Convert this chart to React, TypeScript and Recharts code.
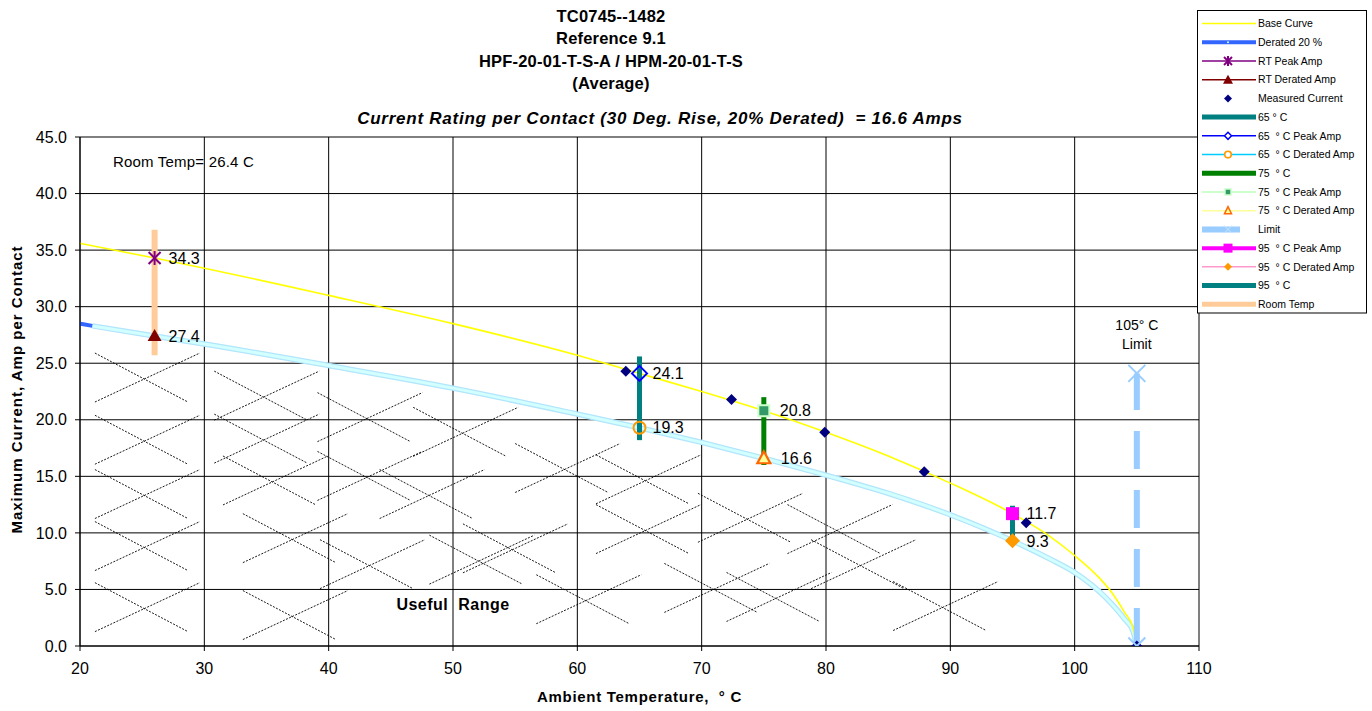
import React from 'react';
import {
  ComposedChart,
  Line,
  Scatter,
  XAxis,
  YAxis,
  CartesianGrid,
  ReferenceLine,
  ReferenceDot,
} from 'recharts';

const FONT = '"Liberation Sans", Arial, Helvetica, sans-serif';

// ---------- data ----------
const xTicks = [20, 30, 40, 50, 60, 70, 80, 90, 100, 110];
const yTicks = [0, 5, 10, 15, 20, 25, 30, 35, 40, 45];

type P = { x: number; y: number };

const baseCurve: P[] = [
  { x: 20, y: 35.6 }, { x: 26, y: 34.3 }, { x: 30, y: 33.4 }, { x: 40, y: 31.0 },
  { x: 50, y: 28.5 }, { x: 60, y: 25.7 }, { x: 65, y: 24.1 }, { x: 70, y: 22.5 },
  { x: 75, y: 20.8 }, { x: 80, y: 18.9 }, { x: 85, y: 16.8 }, { x: 90, y: 14.4 },
  { x: 95, y: 11.7 }, { x: 98, y: 9.7 }, { x: 100, y: 8.0 }, { x: 102, y: 6.0 },
  { x: 103, y: 4.7 }, { x: 104, y: 3.0 }, { x: 104.7, y: 1.6 }, { x: 105, y: 0 },
];

const derated20: P[] = [
  { x: 20, y: 28.5 }, { x: 21, y: 28.3 }, { x: 26, y: 27.4 }, { x: 30, y: 26.7 },
  { x: 40, y: 24.8 }, { x: 50, y: 22.8 }, { x: 60, y: 20.5 }, { x: 65, y: 19.3 },
  { x: 70, y: 18.0 }, { x: 75, y: 16.6 }, { x: 80, y: 15.1 }, { x: 85, y: 13.5 },
  { x: 90, y: 11.6 }, { x: 95, y: 9.3 }, { x: 98, y: 7.7 }, { x: 100, y: 6.5 },
  { x: 102, y: 4.8 }, { x: 103, y: 3.7 }, { x: 104, y: 2.4 }, { x: 104.7, y: 1.3 },
  { x: 105, y: 0 },
];
const deratedBand: P[] = derated20.filter((p) => p.x >= 21);

const measuredCurrent: P[] = [
  { x: 63.9, y: 24.3 }, { x: 72.4, y: 21.8 }, { x: 79.9, y: 18.9 },
  { x: 87.9, y: 15.4 }, { x: 96.1, y: 10.9 }, { x: 105, y: 0 },
];

const rtPeakAmp: P[] = [{ x: 26, y: 34.3 }];
const rtDeratedAmp: P[] = [{ x: 26, y: 27.4 }];
const peak65: P[] = [{ x: 65, y: 24.1 }];
const derated65: P[] = [{ x: 65, y: 19.3 }];
const peak75: P[] = [{ x: 75, y: 20.8 }];
const derated75: P[] = [{ x: 75, y: 16.6 }];
const peak95: P[] = [{ x: 95, y: 11.7 }];
const derated95: P[] = [{ x: 95, y: 9.3 }];

const roomTempBar: P[] = [{ x: 26, y: 25.7 }, { x: 26, y: 36.8 }];
const bar65: P[] = [{ x: 65, y: 18.2 }, { x: 65, y: 25.6 }];
const bar75: P[] = [{ x: 75, y: 16.0 }, { x: 75, y: 22.0 }];
const bar95: P[] = [{ x: 95, y: 9.3 }, { x: 95, y: 12.4 }];
const limitBar: P[] = [{ x: 105, y: 0 }, { x: 105, y: 24.1 }];
const limitPoints: P[] = [{ x: 105, y: 24.1 }, { x: 105, y: 0 }];

// "Useful Range" hatching: top-left corner of each dashed cross (data units)
const hatchCrosses: [number, number][] = [
  [21.2, 25.9], [21.2, 20.4], [21.2, 15.6], [21.2, 11.0], [21.2, 5.6],
  [30.8, 24.3], [30.8, 20.5], [31.5, 16.8], [33.1, 11.7], [33.1, 4.9],
  [39.1, 22.4], [39.1, 17.2], [39.3, 9.4],
  [46.8, 21.1], [44.1, 15.6], [48.1, 9.8], [50.8, 10.8],
  [55.0, 17.9], [56.7, 6.3],
  [61.5, 16.9], [61.5, 12.5],
  [69.7, 13.5], [67.0, 7.3], [72.0, 6.5],
  [76.9, 12.5], [78.8, 9.4], [85.4, 5.7],
];

const titleLines = ['TC0745--1482', 'Reference 9.1', 'HPF-20-01-T-S-A / HPM-20-01-T-S', '(Average)'];
const subTitle = 'Current Rating per Contact (30 Deg. Rise, 20% Derated)  = 16.6 Amps';
const legendNames = [
  'Base Curve', 'Derated 20 %', 'RT Peak Amp', 'RT Derated Amp', 'Measured Current',
  '65 ° C', '65  ° C Peak Amp', '65  ° C Derated Amp', '75  ° C', '75  ° C Peak Amp',
  '75  ° C Derated Amp', 'Limit', '95  ° C Peak Amp', '95  ° C Derated Amp', '95  ° C', 'Room Temp',
];

// ---------- marker drawing ----------
const ValueText = ({ cx, cy, v, dx = 14 }: { cx: number; cy: number; v: number; dx?: number }) => (
  <text x={cx + dx} y={cy} dy="0.36em" fontSize={16} fontFamily={FONT} fill="#000">
    {v.toFixed(1)}
  </text>
);

const Asterisk = ({ cx, cy, c, s = 6 }: any) => (
  <g stroke={c} strokeWidth={2}>
    <line x1={cx - s} y1={cy - s} x2={cx + s} y2={cy + s} />
    <line x1={cx - s} y1={cy + s} x2={cx + s} y2={cy - s} />
    <line x1={cx} y1={cy - s - 1} x2={cx} y2={cy + s + 1} />
  </g>
);
const Tri = ({ cx, cy, fill, stroke, sw = 0, w = 7, up = 7, down = 5 }: any) => (
  <polygon
    points={`${cx},${cy - up} ${cx - w},${cy + down} ${cx + w},${cy + down}`}
    fill={fill}
    stroke={stroke || 'none'}
    strokeWidth={sw}
    strokeLinejoin="miter"
  />
);
const Dia = ({ cx, cy, h, fill, stroke, sw = 0 }: any) => (
  <polygon
    points={`${cx},${cy - h} ${cx + h},${cy} ${cx},${cy + h} ${cx - h},${cy}`}
    fill={fill}
    stroke={stroke || 'none'}
    strokeWidth={sw}
  />
);
const Sq = ({ cx, cy, h, fill, stroke, sw = 0 }: any) => (
  <rect x={cx - h} y={cy - h} width={2 * h} height={2 * h} fill={fill} stroke={stroke || 'none'} strokeWidth={sw} />
);
const XMark = ({ cx, cy, s, c, sw = 2 }: any) => (
  <g stroke={c} strokeWidth={sw}>
    <line x1={cx - s} y1={cy - s} x2={cx + s} y2={cy + s} />
    <line x1={cx - s} y1={cy + s} x2={cx + s} y2={cy - s} />
  </g>
);

const shapeRtPeak = (p: any) => (
  <g>
    <Asterisk cx={p.cx} cy={p.cy} c="#800080" />
    <ValueText cx={p.cx} cy={p.cy} v={p.payload.y} />
  </g>
);
const shapeRtDerated = (p: any) => (
  <g>
    <Tri cx={p.cx} cy={p.cy} fill="#800000" />
    <ValueText cx={p.cx} cy={p.cy} v={p.payload.y} />
  </g>
);
const shapeMeasured = (p: any) => <Dia cx={p.cx} cy={p.cy} h={5.5} fill="#000080" />;
const shapePeak65 = (p: any) => (
  <g>
    <Dia cx={p.cx} cy={p.cy} h={7.5} fill="none" stroke="#0000FF" sw={2} />
    <ValueText cx={p.cx} cy={p.cy} v={p.payload.y} dx={13} />
  </g>
);
const shapeDerated65 = (p: any) => (
  <g>
    <circle cx={p.cx} cy={p.cy} r={6} fill="none" stroke="#FF9900" strokeWidth={2} />
    <ValueText cx={p.cx} cy={p.cy} v={p.payload.y} dx={13} />
  </g>
);
const shapePeak75 = (p: any) => (
  <g>
    <Sq cx={p.cx} cy={p.cy} h={5.5} fill="#339966" stroke="#CCFFCC" sw={2} />
    <ValueText cx={p.cx} cy={p.cy} v={p.payload.y} dx={16} />
  </g>
);
const shapeDerated75 = (p: any) => (
  <g>
    <Tri cx={p.cx} cy={p.cy} fill="#FFFF99" stroke="#FF6600" sw={2.2} w={6.5} up={7} down={5} />
    <ValueText cx={p.cx} cy={p.cy} v={p.payload.y} dx={17} />
  </g>
);
const shapePeak95 = (p: any) => (
  <g>
    <Sq cx={p.cx} cy={p.cy} h={6.5} fill="#FF00FF" />
    <ValueText cx={p.cx} cy={p.cy} v={p.payload.y} dx={14} />
  </g>
);
const shapeDerated95 = (p: any) => (
  <g>
    <Dia cx={p.cx} cy={p.cy} h={7.5} fill="#FF9900" />
    <ValueText cx={p.cx} cy={p.cy} v={p.payload.y} dx={14} />
  </g>
);
const shapeLimit = (p: any) => <XMark cx={p.cx} cy={p.cy} s={8.5} c="#99CCFF" />;

const annot = (txt: string, anchor: 'start' | 'middle', size: number, bold = false, ls = 0) => (p: any) => (
  <text
    x={p.cx}
    y={p.cy}
    dy="0.36em"
    textAnchor={anchor}
    fontSize={size}
    fontWeight={bold ? 'bold' : 'normal'}
    fontFamily={FONT}
    letterSpacing={ls}
    fill="#000"
    style={{ whiteSpace: 'pre' }}
  >
    {txt}
  </text>
);

// ---------- legend ----------
const LEG_X0 = 1202;
const LEG_X1 = 1256;
const LEG_MX = 1228;
const legendSymbol = (i: number, y: number) => {
  const ln = (c: string, w: number, x1 = LEG_X0, x2 = LEG_X1) => (
    <line x1={x1} y1={y} x2={x2} y2={y} stroke={c} strokeWidth={w} />
  );
  switch (i) {
    case 0: return ln('#FFFF00', 1.5);
    case 1: return (<g>{ln('#3366FF', 4)}<circle cx={LEG_MX} cy={y} r={1} fill="#CCFFFF" /></g>);
    case 2: return (<g>{ln('#800080', 1.5)}<Asterisk cx={LEG_MX} cy={y} c="#800080" s={4} /></g>);
    case 3: return (<g>{ln('#800000', 1.5)}<Tri cx={LEG_MX} cy={y} fill="#800000" w={5} up={5} down={4} /></g>);
    case 4: return <Dia cx={LEG_MX} cy={y} h={4} fill="#000080" />;
    case 5: return ln('#008080', 5);
    case 6: return (<g>{ln('#0000FF', 1.5)}<Dia cx={LEG_MX} cy={y} h={3.5} fill="#fff" stroke="#0000FF" sw={1.5} /></g>);
    case 7: return (<g>{ln('#00CCFF', 1.5)}<circle cx={LEG_MX} cy={y} r={3.3} fill="#fff" stroke="#FF9900" strokeWidth={1.6} /></g>);
    case 8: return ln('#008000', 5);
    case 9: return (<g>{ln('#CCFFCC', 2)}<Sq cx={LEG_MX} cy={y} h={3} fill="#339966" stroke="#CCFFCC" sw={1.5} /></g>);
    case 10: return (<g>{ln('#FFFF99', 1.5)}<Tri cx={LEG_MX} cy={y} fill="#FFFF99" stroke="#FF6600" sw={1.5} w={3.5} up={4} down={3} /></g>);
    case 11: return (<g>{ln('#99CCFF', 6, LEG_X0, 1240)}<XMark cx={LEG_MX} cy={y} s={4} c="#C8E4FF" sw={1} /></g>);
    case 12: return (<g>{ln('#FF00FF', 4)}<Sq cx={LEG_MX} cy={y} h={4.5} fill="#FF00FF" /></g>);
    case 13: return (<g>{ln('#FF99CC', 1.5)}<Dia cx={LEG_MX} cy={y} h={4} fill="#FF9900" /></g>);
    case 14: return ln('#008080', 5);
    case 15: return ln('#FFCC99', 5);
    default: return null;
  }
};

const Overlay = () => (
  <svg
    width={1372}
    height={711}
    style={{ position: 'absolute', left: 0, top: 0, pointerEvents: 'none' }}
  >
    {titleLines.map((t, i) => (
      <text key={t} x={611} y={16 + i * 22.5} dy="0.36em" textAnchor="middle" fontSize={16.5}
        fontWeight="bold" fontFamily={FONT} letterSpacing={0.2} fill="#000">{t}</text>
    ))}
    <text x={660} y={118} dy="0.36em" textAnchor="middle" fontSize={17} fontWeight="bold"
      fontStyle="italic" fontFamily={FONT} letterSpacing={0.75} fill="#000"
      style={{ whiteSpace: 'pre' }}>{subTitle}</text>

    <rect x={1197.5} y={10.5} width={169} height={302.5} fill="#fff" stroke="#000" strokeWidth={1} />
    {legendNames.map((n, i) => {
      const y = 23.5 + i * 18.72;
      return (
        <g key={n}>
          {legendSymbol(i, y)}
          <text x={1258} y={y} dy="0.36em" fontSize={10.5} fontFamily={FONT} fill="#000"
            style={{ whiteSpace: 'pre' }}>{n}</text>
        </g>
      );
    })}
  </svg>
);

// ---------- chart ----------
const DX_DESC = 7.48;
const DX_ASC = 8.44;
const DY_CROSS = 4.33;

export default function App() {
  const hatch = hatchCrosses.flatMap(([x, y], i) => [
    <ReferenceLine key={`d${i}`} segment={[{ x, y }, { x: x + DX_DESC, y: y - DY_CROSS }]}
      stroke="#000" strokeWidth={0.9} strokeDasharray="2 1.4" />,
    <ReferenceLine key={`a${i}`} segment={[{ x, y: y - DY_CROSS }, { x: x + DX_ASC, y }]}
      stroke="#000" strokeWidth={0.9} strokeDasharray="2 1.4" />,
  ]);

  return (
    <div style={{ position: 'absolute', left: 0, top: 0, width: 1372, height: 711, background: '#fff' }}>
      <ComposedChart width={1372} height={711} margin={{ top: 137, right: 173, bottom: 15, left: 10 }}>
        <CartesianGrid stroke="#000" strokeWidth={1} horizontalValues={yTicks} verticalValues={xTicks} />
        <XAxis
          type="number"
          dataKey="x"
          domain={[20, 110]}
          ticks={xTicks}
          allowDataOverflow
          height={50}
          tickSize={5}
          tickMargin={12}
          stroke="#000"
          tick={{ fill: '#000', fontSize: 16, fontFamily: FONT }}
          label={(p: any) => {
            const vb = p.viewBox;
            return (
              <text x={vb.x + vb.width / 2} y={vb.y + 51} dy="0.36em" textAnchor="middle" fontSize={15}
                fontWeight="bold" fontFamily={FONT} letterSpacing={0.7} fill="#000" style={{ whiteSpace: 'pre' }}>
                {'Ambient Temperature,  ° C'}
              </text>
            );
          }}
        />
        <YAxis
          type="number"
          dataKey="y"
          domain={[0, 45]}
          ticks={yTicks}
          allowDataOverflow
          width={70}
          tickSize={5}
          tickMargin={8}
          stroke="#000"
          tickFormatter={(v: number) => v.toFixed(1)}
          tick={{ fill: '#000', fontSize: 16, fontFamily: FONT }}
          label={(p: any) => {
            const vb = p.viewBox;
            const cx = vb.x + 7;
            const cy = vb.y + vb.height / 2 - 2;
            return (
              <text x={cx} y={cy} dy="0.36em" textAnchor="middle" fontSize={15} fontWeight="bold"
                fontFamily={FONT} letterSpacing={1} fill="#000" transform={`rotate(-90 ${cx} ${cy})`}>
                Maximum Current, Amp per Contact
              </text>
            );
          }}
        />

        {hatch}

        <Line data={derated20} dataKey="y" type="monotone" stroke="#3366FF" strokeWidth={4}
          dot={false} isAnimationActive={false} />
        <Line data={deratedBand} dataKey="y" type="monotone" stroke="#B3E5FB" strokeWidth={5.5}
          dot={false} isAnimationActive={false} />
        <Line data={deratedBand} dataKey="y" type="monotone" stroke="#D2FFFF" strokeWidth={3}
          dot={false} isAnimationActive={false} />
        <Line data={baseCurve} dataKey="y" type="monotone" stroke="#FFFF00" strokeWidth={1.6}
          dot={false} isAnimationActive={false} />

        <Line data={roomTempBar} dataKey="y" type="linear" stroke="#FFCC99" strokeWidth={6}
          dot={false} isAnimationActive={false} />
        <Line data={bar65} dataKey="y" type="linear" stroke="#008080" strokeWidth={5}
          dot={false} isAnimationActive={false} />
        <Line data={bar75} dataKey="y" type="linear" stroke="#008000" strokeWidth={5}
          dot={false} isAnimationActive={false} />
        <Line data={bar95} dataKey="y" type="linear" stroke="#008080" strokeWidth={5}
          dot={false} isAnimationActive={false} />
        <Line data={limitBar} dataKey="y" type="linear" stroke="#99CCFF" strokeWidth={6}
          strokeDasharray="38 21" dot={false} isAnimationActive={false} />

        <Scatter data={measuredCurrent} dataKey="y" shape={shapeMeasured} isAnimationActive={false} />
        <Scatter data={rtPeakAmp} dataKey="y" shape={shapeRtPeak} isAnimationActive={false} />
        <Scatter data={rtDeratedAmp} dataKey="y" shape={shapeRtDerated} isAnimationActive={false} />
        <Scatter data={peak65} dataKey="y" shape={shapePeak65} isAnimationActive={false} />
        <Scatter data={derated65} dataKey="y" shape={shapeDerated65} isAnimationActive={false} />
        <Scatter data={peak75} dataKey="y" shape={shapePeak75} isAnimationActive={false} />
        <Scatter data={derated75} dataKey="y" shape={shapeDerated75} isAnimationActive={false} />
        <Scatter data={peak95} dataKey="y" shape={shapePeak95} isAnimationActive={false} />
        <Scatter data={derated95} dataKey="y" shape={shapeDerated95} isAnimationActive={false} />
        <Scatter data={limitPoints} dataKey="y" shape={shapeLimit} isAnimationActive={false} />

        <ReferenceDot x={22.65} y={42.8} r={1} shape={annot('Room Temp= 26.4 C', 'start', 15, false, 0.2)} />
        <ReferenceDot x={105} y={28.4} r={1} shape={annot('105° C', 'middle', 14)} />
        <ReferenceDot x={105} y={26.7} r={1} shape={annot('Limit', 'middle', 14)} />
        <ReferenceDot x={50} y={3.7} r={1} shape={annot('Useful  Range', 'middle', 16, true, 0.5)} />
      </ComposedChart>
      <Overlay />
    </div>
  );
}
